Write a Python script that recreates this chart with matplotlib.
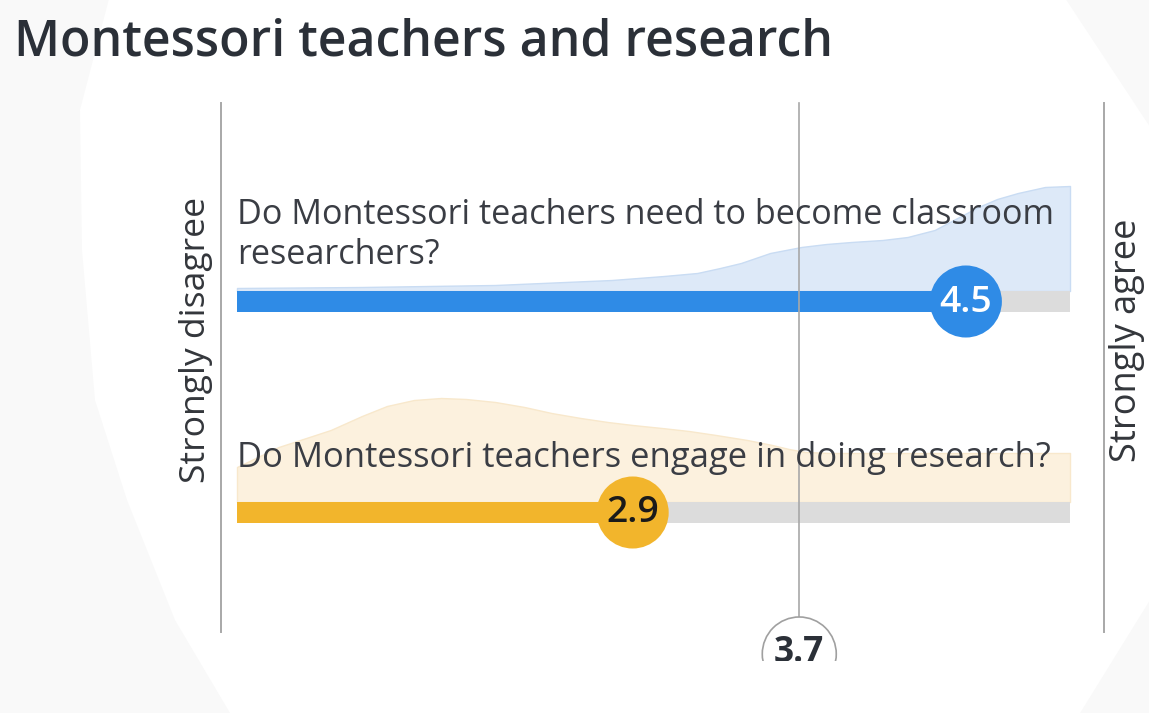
import matplotlib
matplotlib.use("Agg")
import matplotlib.pyplot as plt
from matplotlib.patches import Ellipse, Rectangle, Polygon
import numpy as np

# ---- data ----
title = "Montessori teachers and research"
questions = ["Do Montessori teachers need to become classroom\nresearchers?",
             "Do Montessori teachers engage in doing research?"]
means = [4.5, 2.9]
overall_mean = 3.7
scale_min, scale_max = 1, 5
left_label = "Strongly disagree"
right_label = "Strongly agree"

# distribution shapes (x on scale, relative height in px)
dist_x_blue = [1.0, 1.6, 2.24, 2.8, 3.05, 3.21, 3.32, 3.42, 3.56, 3.71, 3.83, 3.95,
               4.1, 4.22, 4.35, 4.45, 4.56, 4.65, 4.75, 4.88, 5.0]
dist_h_blue = [3, 4, 6, 11, 15, 18, 23, 28, 38, 44, 47, 49,
               51, 54, 61, 72, 84, 92, 98, 104, 105]
dist_x_orange = [1.0, 1.2, 1.45, 1.6, 1.72, 1.85, 1.98, 2.1, 2.24, 2.38, 2.51, 2.65,
                 2.78, 2.9, 3.04, 3.17, 3.30, 3.45, 3.57, 3.65, 3.73, 3.85, 4.2, 5.0]
dist_h_orange = [35, 55, 72, 86, 96, 102, 104, 103, 100, 95, 89, 84,
                 80, 77, 74, 71, 67, 62, 57, 53, 50, 49, 49, 49]

bar_colors = ["#2f8be6", "#f2b52c"]
area_colors = ["#dde9f8", "#fcf1de"]
area_edges = ["#c9dcf3", "#f8e8cc"]
text_colors = ["white", "#1a1a1a"]

W, H = 1149, 713
fig = plt.figure(figsize=(W / 100, H / 100), dpi=100)
fig.patch.set_facecolor("#f9f9f9")

# faint background blob (pixel coordinates)
bg = fig.add_axes([0, 0, 1, 1])
bg.set_xlim(0, W)
bg.set_ylim(H, 0)
bg.axis("off")
blob = [(110, -5), (1063, -5), (1150, 127), (1168, 360), (1150, 600), (1077, 718),
        (233, 718), (175, 620), (127, 500), (95, 400), (82, 250), (80, 110)]
bg.add_patch(Polygon(blob, closed=True, facecolor="white", edgecolor="none"))

ax = fig.add_axes([0, 0, 1, 1])
px_unit = (1070 - 237) / (scale_max - scale_min)
x0 = scale_min - 237 / px_unit
x1 = scale_min + (W - 237) / px_unit
ax.set_xlim(x0, x1)
ax.set_ylim(H, 0)
ax.axis("off")
ax.set_facecolor("none")
renderer = fig.canvas.get_renderer()


def px(v):
    return x0 + v / px_unit


def fit(t, width_px, horizontal=True):
    bb = t.get_window_extent(renderer=renderer)
    cur = bb.width if horizontal else bb.height
    t.set_fontsize(t.get_fontsize() * width_px / cur)


font = ["Open Sans", "DejaVu Sans"]
tt = fig.text(14 / W, 1 - 43 / H, title, fontsize=36, color="#2b3038",
              family=font, fontweight="semibold", va="center", ha="left")
fit(tt, 818)

line_col = "#a8a8a8"
x_left = px(221)
x_right = px(1104)
ax.plot([x_left, x_left], [103, 632], color=line_col, lw=1.4, zorder=1)
ax.plot([x_right, x_right], [103, 632], color=line_col, lw=1.4, zorder=1)

tl = ax.text(px(196), 340, left_label, rotation=90, ha="center",
             va="center", fontsize=19, color="#33363b", family=font)
fit(tl, 286, horizontal=False)
tr = ax.text(px(1127), 340, right_label, rotation=90, ha="center",
             va="center", fontsize=19, color="#33363b", family=font)
fit(tr, 244, horizontal=False)

bar_tops = [291, 502]
bar_h = 21
dists = [(dist_x_blue, dist_h_blue), (dist_x_orange, dist_h_orange)]
text_y = [235, 458]
q_widths = [818, 813]
for i, q in enumerate(questions):
    base = bar_tops[i]
    dx, dh = dists[i]
    xs = np.array(dx)
    tops = base - np.array(dh)
    ax.fill_between(xs, tops, base, facecolor=area_colors[i],
                    edgecolor=area_edges[i], lw=1, zorder=1)
    tq = ax.text(scale_min, text_y[i], q, fontsize=21, color="#3a3d44", family=font,
                 va="center", ha="left", linespacing=1.2, zorder=4)
    fit(tq, q_widths[i])
    ax.add_patch(Rectangle((scale_min, base), scale_max - scale_min, bar_h,
                           facecolor="#dcdcdc", edgecolor="none", zorder=2))
    ax.add_patch(Rectangle((scale_min, base), means[i] - scale_min, bar_h,
                           facecolor=bar_colors[i], edgecolor="none", zorder=3))
    ax.scatter([means[i]], [base + bar_h / 2], s=2690, color=bar_colors[i],
               zorder=5, edgecolors="none")
    tv = ax.text(means[i], base + bar_h / 2 + 1, f"{means[i]:.1f}", fontsize=18,
                 color=text_colors[i], family=font, ha="center", va="center",
                 zorder=6, fontweight="semibold")
    fit(tv, 53)

# overall mean line and label
ax.plot([overall_mean, overall_mean], [103, 617], color=line_col, lw=1.2, zorder=3.5)
ax.add_patch(Ellipse((overall_mean, 654), width=74 / px_unit, height=74,
                     facecolor="white", edgecolor="#a0a0a0", lw=1.2, zorder=4))
tm = ax.text(overall_mean, 653, f"{overall_mean}", fontsize=18, color="#2b3038",
             family=font, ha="center", va="center", zorder=4.5, fontweight="bold")
fit(tm, 50)
ax.add_patch(Rectangle((overall_mean - 60 / px_unit, 661), 120 / px_unit, 60,
                       facecolor="white", edgecolor="none", zorder=4.8))

fig.savefig("out.png", dpi=100, facecolor=fig.get_facecolor())
